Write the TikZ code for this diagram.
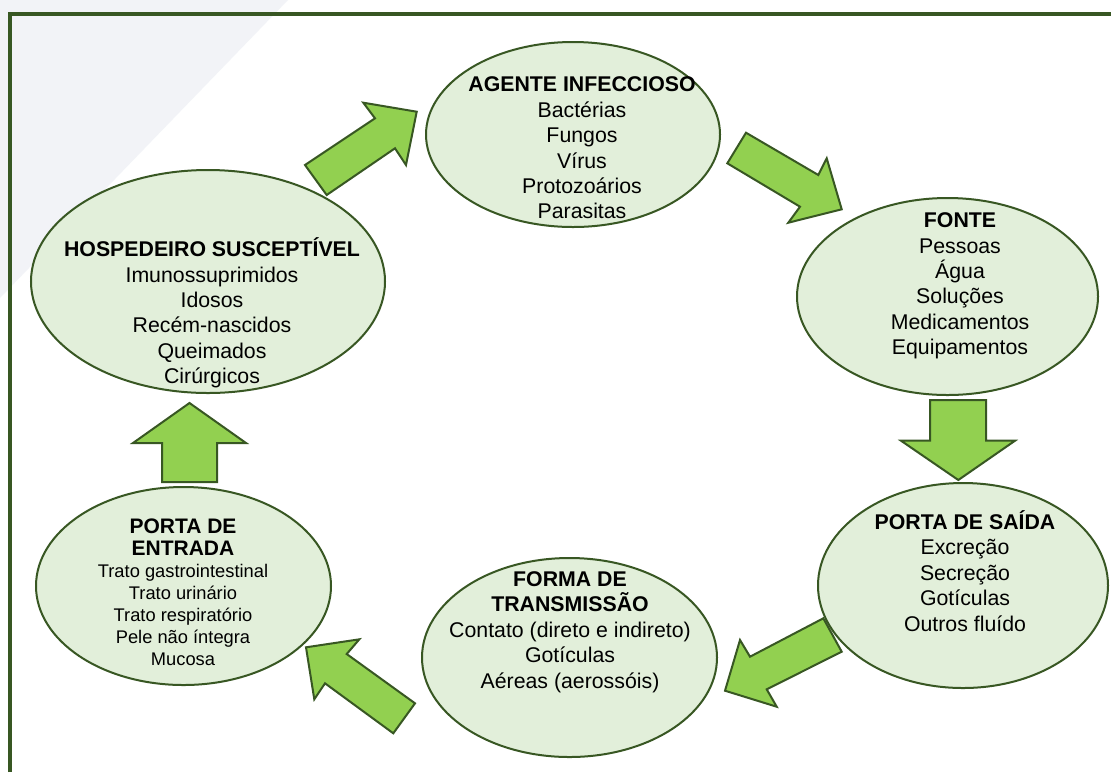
\documentclass[tikz,border=0pt]{standalone}
\usepackage{fontspec}
\setmainfont{Liberation Sans}
\usetikzlibrary{shapes.geometric}
\definecolor{darkgreen}{HTML}{385723}
\definecolor{lightgreen}{HTML}{E2EFDA}
\definecolor{arrowgreen}{HTML}{92D050}
\definecolor{palegrey}{HTML}{F2F3F7}

\begin{document}
\begin{tikzpicture}[x=0.5pt, y=-0.5pt,
	cell/.style={ellipse, draw=darkgreen, fill=lightgreen, line width=1pt, inner sep=0pt},
	celltext/.style={align=center, inner sep=0pt, font=\fontsize{10.65}{12.7}\selectfont},
	smalltext/.style={align=center, inner sep=0pt, font=\fontsize{9.15}{11}\selectfont},
	blockarrow/.style={draw=darkgreen, fill=arrowgreen, line width=1pt, line join=miter}]
	\useasboundingbox (0,0) rectangle (1111,772);
	\fill[white] (0,0) rectangle (1111,772);
	\fill[palegrey] (0,0) -- (288,0) -- (0,298) -- cycle;
	\draw[darkgreen, line width=1.8pt, line join=miter] (10,772) -- (10,14) -- (1111,14);

	\draw[blockarrow] (305,165) -- (375,118.3) -- (363.3,102.7) -- (416.7,111.7) -- (406,165) -- (395,148.3) -- (326.7,195) -- cycle;
	\draw[blockarrow] (746,132.7) -- (818.3,175) -- (826.7,158.3) -- (841.7,209.3) -- (788.3,222.7) -- (800,206.7) -- (727.3,163.3) -- cycle;
	\draw[blockarrow] (930,400) -- (986,400) -- (986,440.7) -- (1015,440.7) -- (958.3,480) -- (901,440.7) -- (930,440.7) -- cycle;
	\draw[blockarrow] (823.3,618.3) -- (750,656.7) -- (740,640) -- (725,690.7) -- (776.7,706.7) -- (766.7,689.3) -- (841.7,651.7) -- cycle;
	\draw[blockarrow] (415,703.3) -- (346.7,654) -- (359.3,639.3) -- (306,647.3) -- (314.3,699.3) -- (325,683.3) -- (393.3,733.3) -- cycle;
	\draw[blockarrow] (162,482) -- (162,443) -- (133,443) -- (189.5,403) -- (246,443) -- (217,443) -- (217,482) -- cycle;

	\node[cell, minimum width=147pt, minimum height=92.5pt] (agente) at (573,134.5) {};
	\node[cell, minimum width=150.5pt, minimum height=98.5pt] (fonte) at (947.5,296.5) {};
	\node[cell, minimum width=145pt, minimum height=102.5pt] (saida) at (963,585.5) {};
	\node[cell, minimum width=147.5pt, minimum height=99.5pt] (forma) at (569.5,657.5) {};
	\node[cell, minimum width=147.5pt, minimum height=99pt] (entrada) at (183.5,586) {};
	\node[cell, minimum width=177pt, minimum height=111.5pt] (hospedeiro) at (208,281.5) {};

	\node[celltext] (agentetxt) at (582,148) {\textbf{AGENTE INFECCIOSO}\\ Bactérias\\ Fungos\\ Vírus\\ Protozoários\\ Parasitas};
	\node[celltext] (fontetxt) at (960,286) {\textbf{FONTE}\\ Pessoas\\ Água\\ Soluções\\ Medicamentos\\ Equipamentos};
	\node[celltext] (saidatxt) at (965,571) {\textbf{PORTA DE SAÍDA}\\ Excreção\\ Secreção\\ Gotículas\\ Outros fluído};
	\node[celltext] (formatxt) at (570,632) {\textbf{FORMA DE}\\ \textbf{TRANSMISSÃO}\\ Contato (direto e indireto)\\ Gotículas\\ Aéreas (aerossóis)};
	\node[smalltext] (entradatxt) at (183,592) {{\fontsize{10.5}{11}\selectfont\bfseries PORTA DE}\\ {\fontsize{10.5}{11}\selectfont\bfseries ENTRADA}\\ Trato gastrointestinal\\ Trato urinário\\ Trato respiratório\\ Pele não íntegra\\ Mucosa};
	\node[celltext] (hospedeirotxt) at (212,313) {\textbf{HOSPEDEIRO SUSCEPTÍVEL}\\ Imunossuprimidos\\ Idosos\\ Recém-nascidos\\ Queimados\\ Cirúrgicos};
\end{tikzpicture}
\end{document}
